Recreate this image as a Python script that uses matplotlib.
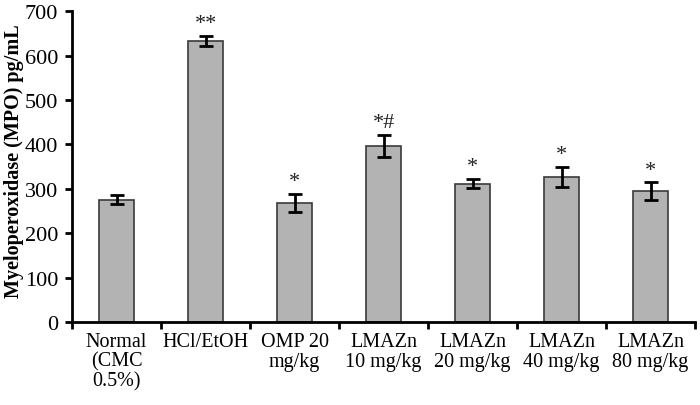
import numpy as np
import matplotlib.pyplot as plt

plt.rcParams['font.family'] = ['Liberation Serif', 'DejaVu Serif']

labels = ['Normal\n(CMC\n0.5%)', 'HCl/EtOH', 'OMP 20\nmg/kg', 'LMAZn\n10 mg/kg',
          'LMAZn\n20 mg/kg', 'LMAZn\n40 mg/kg', 'LMAZn\n80 mg/kg']
mpo = [276, 633, 269, 397, 312, 327, 295]
err = [11, 12, 20, 25, 11, 23, 20]
marks = ['', '**', '*', '*#', '*', '*', '*']

fig = plt.figure(figsize=(7, 4.06), dpi=100)
ax = fig.add_axes([0.103, 0.204, 0.890, 0.766])

x = np.arange(len(labels))
ax.bar(x, mpo, width=0.4, color='#b3b3b3', edgecolor='#3a3a3a', linewidth=1.2, zorder=2)
ax.errorbar(x, mpo, yerr=err, fmt='none', ecolor='black', elinewidth=2,
            capsize=5, capthick=2, zorder=3)
for xi, v, e, m in zip(x, mpo, err, marks):
    if m:
        ax.text(xi, v + e + 6, m, ha='center', va='bottom', fontsize=16, color='#222222')

ax.set_xlim(-0.5, len(labels) - 0.5)
ax.set_ylim(0, 700)
ax.set_yticks(range(0, 701, 100))
ax.set_xticks(np.arange(len(labels) + 1) - 0.5)
ax.set_xticklabels([])
ax.set_xticks(x, minor=True)
ax.set_xticklabels(labels, minor=True, fontsize=14.5, linespacing=1.05)
ax.tick_params(axis='x', which='minor', length=0, pad=7)
ax.tick_params(axis='x', which='major', direction='out', length=5, width=2)
ax.tick_params(axis='y', direction='out', length=5, width=2, labelsize=16, pad=5)

for s in ['top', 'right']:
    ax.spines[s].set_visible(False)
for s in ['left', 'bottom']:
    ax.spines[s].set_linewidth(2)

ax.set_ylabel('Myeloperoxidase (MPO) pg/mL', fontsize=14.5, fontweight='bold')
ax.yaxis.set_label_coords(-0.077, 0.52)

fig.savefig('out.png', dpi=100)
